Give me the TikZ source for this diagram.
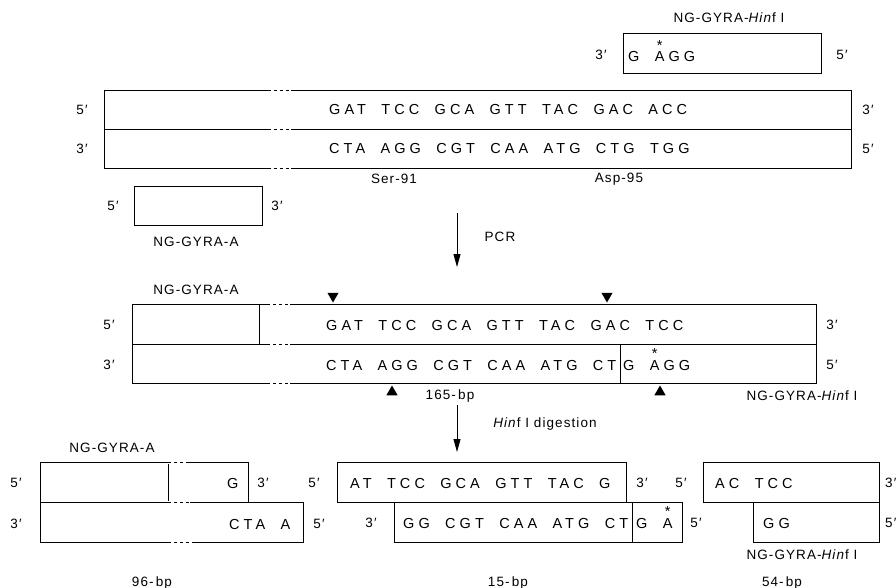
\documentclass[tikz,border=0pt]{standalone}
\usepackage{fontspec}
\setmainfont{Liberation Sans}
\newfontfamily\seqfont[LetterSpace=28,WordSpace=1.9]{Liberation Sans}
\newfontfamily\labfont[LetterSpace=8]{Liberation Sans}
\usepackage{tikz}
\usetikzlibrary{positioning,arrows.meta,shapes.geometric}
\newcommand{\starA}{\makebox[0pt][l]{\hspace{2pt}\raisebox{11.5pt}{*}}A}

\begin{document}
\begin{tikzpicture}[x=1pt, y=-1pt,
        strand/.style={draw, line width=0.9pt, minimum height=39pt, inner sep=0pt, anchor=north west},
        seq/.style={font=\seqfont\fontsize{14.5}{17}\selectfont, inner sep=0pt, anchor=base west},
        lab/.style={font=\labfont\fontsize{13.5}{16}\selectfont, inner sep=0pt},
        gap/.style={line width=0.9pt, dash pattern=on 3pt off 3pt, preaction={draw=white, solid, line width=3pt}},
        tridown/.style={regular polygon, regular polygon sides=3, shape border rotate=180, fill, inner sep=0pt, minimum size=13pt},
        triup/.style={regular polygon, regular polygon sides=3, fill, inner sep=0pt, minimum size=13pt},
        arr/.style={-{Triangle[length=13pt, width=7pt]}, line width=0.9pt},
    ]
    \useasboundingbox (0,0) rectangle (896,588);

    % template and primers
    \node[lab] (hinfname) at (729,18) {NG-GYRA-\textit{Hin}f I};
    \node[strand, minimum width=198pt, minimum height=40pt] (hinf) at (623,33) {};
    \node[seq] (hinfseq) at (628,62) {G \starA GG};
    \node[lab] (hinf3) at (601,55) {3′};
    \node[lab] (hinf5) at (842,55) {5′};

    \node[strand, minimum width=747pt] (tw) at (104,90) {};
    \node[strand, minimum width=747pt] (tc) at (104,129) {};
    \draw[gap] (268,90) -- (291,90) (268,129) -- (291,129) (268,168) -- (291,168);
    \node[seq] (twseq) at (329,115) {GAT TCC GCA GTT TAC GAC ACC};
    \node[seq] (tcseq) at (329,154) {CTA AGG CGT CAA ATG CTG TGG};
    \node[lab] (tw5) at (82,110) {5′};
    \node[lab] (tc3) at (82,149) {3′};
    \node[lab] (tw3) at (868,110) {3′};
    \node[lab] (tc5) at (868,149) {5′};
    \node[lab] (ser) at (394,179) {Ser-91};
    \node[lab] (asp) at (619,179) {Asp-95};

    \node[strand, minimum width=128pt] (pa) at (134,186) {};
    \node[lab] (pa5) at (113,206) {5′};
    \node[lab] (pa3) at (277,206) {3′};
    \node[lab] (paname) at (196,242) {NG-GYRA-A};

    \coordinate (pcrtop) at (457,213);
    \coordinate (pcrtip) at (457,267);
    \draw[arr] (pcrtop) -- (pcrtip);
    \node[lab] (pcr) at (500,237) {PCR};

    % PCR product
    \node[lab] (paname2) at (196,290) {NG-GYRA-A};
    \node[strand, minimum width=684pt, minimum height=40pt] (pw) at (132,304) {};
    \node[strand, minimum width=684pt] (pc) at (132,344) {};
    \node[strand, minimum width=127pt, minimum height=40pt] (pwa) at (132,304) {};
    \node[strand, minimum width=196pt] (pch) at (620,344) {};
    \draw[gap] (267,304) -- (290,304) (267,344) -- (290,344) (267,383) -- (290,383);
    \node[seq] (pwseq) at (326,330) {GAT TCC GCA GTT TAC GAC TCC};
    \node[seq] (pcseq) at (326,370) {CTA AGG CGT CAA ATG CT};
    \node[seq] (pchseq) at (623,370) {G \starA GG};
    \node[lab] (pw5) at (109,325) {5′};
    \node[lab] (pc3) at (109,365) {3′};
    \node[lab] (pw3) at (832,325) {3′};
    \node[lab] (pc5) at (832,365) {5′};
    \node[tridown] (cut1) at (333,296) {};
    \node[tridown] (cut2) at (607,296) {};
    \node[triup] (cut3) at (392,392) {};
    \node[triup] (cut4) at (660,392) {};
    \node[lab] (len165) at (450,396) {165-\,bp};
    \node[lab] (hinfname2) at (802,396) {NG-GYRA-\textit{Hin}f I};

    \coordinate (digtop) at (457,405);
    \coordinate (digtip) at (457,452);
    \draw[arr] (digtop) -- (digtip);
    \node[lab] (dig) at (545,424) {\textit{Hin}f I digestion};

    % fragments
    \node[lab] (paname3) at (112,448) {NG-GYRA-A};
    \node[strand, minimum width=208pt, minimum height=40pt] (fa) at (40,462) {};
    \node[strand, minimum width=128pt, minimum height=40pt] (faa) at (40,462) {};
    \node[strand, minimum width=263pt, minimum height=40pt] (fb) at (40,502) {};
    \draw[gap] (168,462) -- (188,462) (168,502) -- (190,502) (168,542) -- (193,542);
    \node[seq] (faseq) at (227,488) {G};
    \node[seq] (fbseq) at (229,529) {CTA A};
    \node[lab] (fa5) at (16,483) {5′};
    \node[lab] (fb3) at (16,524) {3′};
    \node[lab] (fa3) at (263,483) {3′};
    \node[lab] (fb5) at (319,524) {5′};
    \node[lab] (len96) at (152,583) {96-\,bp};

    \node[strand, minimum width=289pt, minimum height=40pt] (ma) at (337,462) {};
    \node[strand, minimum width=288pt, minimum height=40pt] (mb) at (394,502) {};
    \node[strand, minimum width=50pt, minimum height=40pt] (mbh) at (632,502) {};
    \node[seq] (maseq) at (350,488) {AT TCC GCA GTT TAC G};
    \node[seq] (mbseq) at (403,528) {GG CGT CAA ATG CT};
    \node[seq] (mbhseq) at (636,528) {G \starA};
    \node[lab] (ma5) at (314,483) {5′};
    \node[lab] (ma3) at (642,483) {3′};
    \node[lab] (mb3) at (371,523) {3′};
    \node[lab] (mb5) at (696,523) {5′};
    \node[lab] (len15) at (508,583) {15-\,bp};

    \node[strand, minimum width=176pt, minimum height=40pt] (ra) at (703,462) {};
    \node[strand, minimum width=126pt, minimum height=40pt] (rb) at (753,502) {};
    \node[seq] (raseq) at (715,488) {AC TCC};
    \node[seq] (rbseq) at (763,528) {GG};
    \node[lab] (ra5) at (681,483) {5′};
    \node[lab, anchor=west] (ra3) at (885,483) {3′};
    \node[lab, anchor=west] (rb5) at (885,523) {5′};
    \node[lab] (hinfname3) at (802,555) {NG-GYRA-\textit{Hin}f I};
    \node[lab] (len54) at (782,583) {54-\,bp};
\end{tikzpicture}
\end{document}
